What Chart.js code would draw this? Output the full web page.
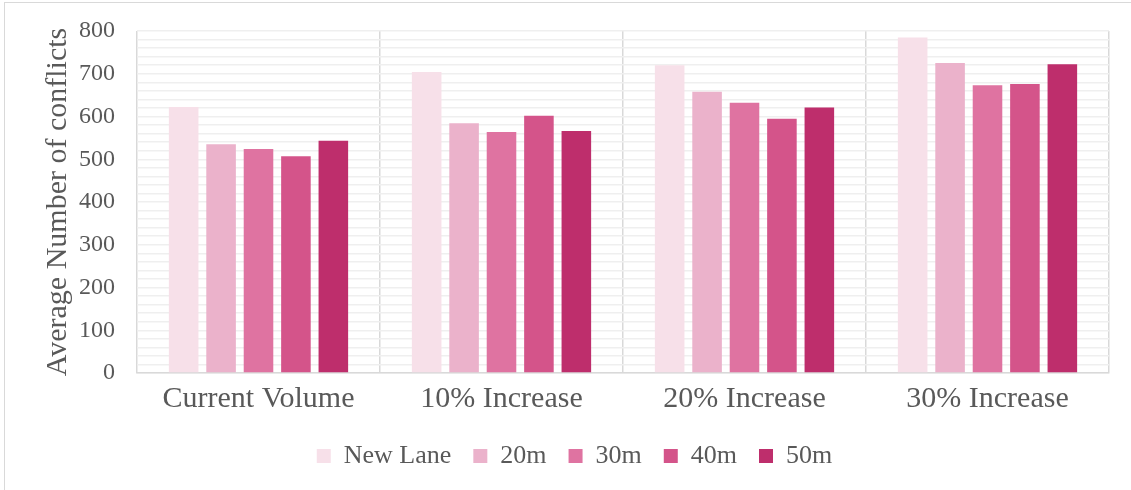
<!DOCTYPE html>
<html>
<head>
<meta charset="utf-8">
<script src="https://cdn.jsdelivr.net/npm/chart.js@4/dist/chart.umd.min.js"></script>
<style>
  html, body { margin: 0; padding: 0; background: #fff; overflow: hidden; }
  #frame { position: absolute; left: 4px; top: 2px; width: 1200px; height: 600px; border: 1px solid #d9d9d9; }
  #wrap { position: absolute; left: 0; top: 0; width: 1131px; height: 490px; }
</style>
</head>
<body>
<div id="frame"></div>
<div id="wrap"><canvas id="conflictChart"></canvas></div>
<script>
// Categories and series
const categories = ['Current Volume', '10% Increase', '20% Increase', '30% Increase'];
const seriesNames = ['New Lane', '20m', '30m', '40m', '50m'];
const newLane = [622, 704, 720, 785];
const m20 = [535, 584, 658, 725];
const m30 = [524, 564, 632, 673];
const m40 = [507, 602, 595, 676];
const m50 = [543, 566, 621, 722];
const seriesColors = ['#f7e0e9', '#ebb2cb', '#df73a1', '#d4548a', '#be2e6c'];

const allValues = [newLane, m20, m30, m40, m50];
const textColor = '#595959';
const serif = "'Liberation Serif', 'Times New Roman', serif";

const datasets = seriesNames.map((name, i) => ({
  label: name,
  data: allValues[i],
  backgroundColor: seriesColors[i],
  borderWidth: 0,
  barPercentage: 0.79,
  categoryPercentage: 0.77
}));

const ctx = document.getElementById('conflictChart').getContext('2d');
new Chart(ctx, {
  type: 'bar',
  data: { labels: categories, datasets: datasets },
  options: {
    responsive: true,
    maintainAspectRatio: false,
    animation: false,
    layout: { padding: { left: 40, right: 22, top: 31, bottom: 11 } },
    scales: {
      x: {
        grid: { color: '#d9d9d9', lineWidth: 1.5, offset: true, drawTicks: false },
        border: { color: '#d9d9d9', width: 1.5 },
        ticks: { color: textColor, font: { family: serif, size: 30 }, padding: 8 },
        afterFit: function(scale) { scale.height -= 4; }
      },
      y: {
        min: 0,
        max: 800,
        grid: { color: '#efefef', lineWidth: 1.5, drawTicks: false },
        border: { display: false },
        ticks: {
          stepSize: 20,
          autoSkip: false,
          color: textColor,
          font: { family: serif, size: 24 },
          padding: 22,
          callback: function(value) { return value % 100 === 0 ? String(value) : ''; }
        },
        title: {
          display: true,
          text: 'Average Number of conflicts',
          color: textColor,
          font: { family: serif, size: 30 },
          padding: 0
        },
        afterFit: function(scale) {
          // fixed axis width, and keep tick padding from pushing the plot down
          scale.width = 97;
          scale.paddingTop = 14;
          scale.paddingBottom = 14;
        }
      }
    },
    plugins: {
      legend: {
        position: 'bottom',
        labels: {
          color: textColor,
          font: { family: serif, size: 26 },
          boxWidth: 14,
          boxHeight: 14,
          padding: 22
        }
      },
      tooltip: { enabled: false }
    }
  }
});
</script>
</body>
</html>
